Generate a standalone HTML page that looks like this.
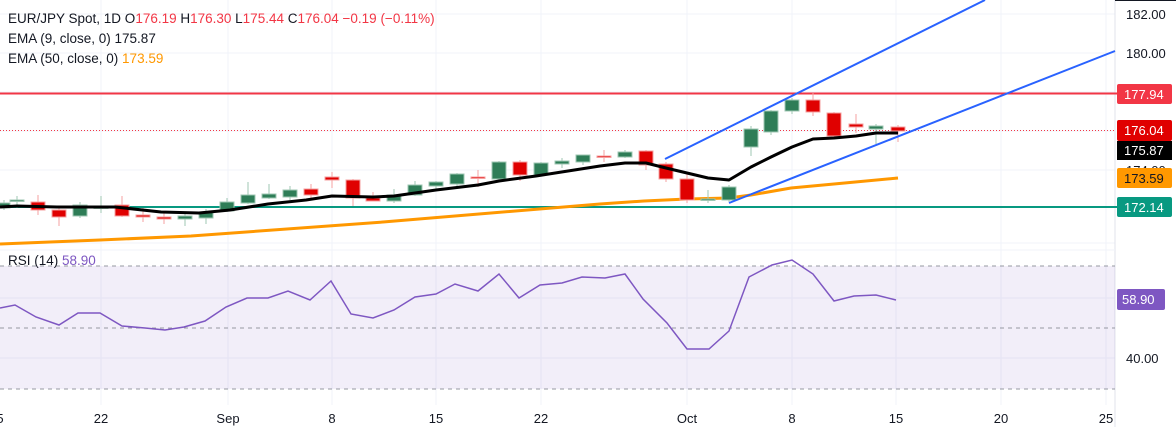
<!DOCTYPE html>
<html><head><meta charset="utf-8"><style>
body{margin:0;background:#fff;}
svg{display:block;font-family:"Liberation Sans","DejaVu Sans",sans-serif;}
</style></head><body>
<svg width="1176" height="427" viewBox="0 0 1176 427" xmlns="http://www.w3.org/2000/svg">
<rect width="1176" height="427" fill="#fff"/>
<!-- grid -->
<g stroke="#f0f3fa" stroke-width="1">
<line x1="0" y1="14" x2="1115" y2="14"/><line x1="0" y1="53" x2="1115" y2="53"/>
<line x1="0" y1="92" x2="1115" y2="92"/><line x1="0" y1="131" x2="1115" y2="131"/>
<line x1="0" y1="170" x2="1115" y2="170"/><line x1="0" y1="243" x2="1115" y2="243"/>
<line x1="0" y1="298" x2="1115" y2="298"/><line x1="0" y1="358" x2="1115" y2="358"/>
<line x1="101" y1="0" x2="101" y2="405"/><line x1="228" y1="0" x2="228" y2="405"/>
<line x1="332" y1="0" x2="332" y2="405"/><line x1="436" y1="0" x2="436" y2="405"/>
<line x1="541" y1="0" x2="541" y2="405"/><line x1="687" y1="0" x2="687" y2="405"/>
<line x1="792" y1="0" x2="792" y2="405"/><line x1="896" y1="0" x2="896" y2="405"/>
<line x1="1001" y1="0" x2="1001" y2="405"/><line x1="1106" y1="0" x2="1106" y2="405"/>
</g>
<line x1="1115" y1="0" x2="1115" y2="427" stroke="#e0e3eb"/>
<line x1="1115" y1="0.5" x2="1176" y2="0.5" stroke="#131722"/>
<line x1="0" y1="250" x2="1115" y2="250" stroke="#f0f3fa"/>

<!-- horizontal levels -->
<line x1="0" y1="93.5" x2="1117" y2="93.5" stroke="#f23645" stroke-width="2"/>
<line x1="0" y1="130.5" x2="1115" y2="130.5" stroke="#f23645" stroke-width="1" stroke-dasharray="1 2"/>
<line x1="0" y1="207" x2="1117" y2="207" stroke="#089981" stroke-width="2"/>

<!-- EMA50 -->
<polyline fill="none" stroke="#ff9800" stroke-width="3" points="0,244 100,240 191,236 383,222 600,204 644,201 687,199 729,198 751,195 791,188 834,184 898,178"/>

<!-- candles -->
<g stroke-width="1">
<g stroke="#9fc7b3" fill="#2e7d57">
<line x1="4" y1="200" x2="4" y2="210"/><rect x="-4" y="203" width="14" height="5"/>
<line x1="17" y1="196" x2="17" y2="208"/><rect x="10" y="200" width="14" height="1.5"/>
<line x1="80" y1="202" x2="80" y2="218"/><rect x="73" y="205" width="14" height="11"/>
<line x1="101" y1="196" x2="101" y2="213"/><rect x="94" y="207" width="14" height="1.5"/>
<line x1="185" y1="212" x2="185" y2="226"/><rect x="178" y="216" width="14" height="3"/>
<line x1="206" y1="209" x2="206" y2="224"/><rect x="199" y="212" width="14" height="6"/>
<line x1="227" y1="198" x2="227" y2="212"/><rect x="220" y="202" width="14" height="9"/>
<line x1="248" y1="182" x2="248" y2="204"/><rect x="241" y="195" width="14" height="8"/>
<line x1="269" y1="184" x2="269" y2="199"/><rect x="262" y="194" width="14" height="4"/>
<line x1="290" y1="186" x2="290" y2="200"/><rect x="283" y="190" width="14" height="7"/>
<line x1="394" y1="189" x2="394" y2="203"/><rect x="387" y="195" width="14" height="6"/>
<line x1="415" y1="181" x2="415" y2="196"/><rect x="408" y="185" width="14" height="10"/>
<line x1="436" y1="181" x2="436" y2="190"/><rect x="429" y="182" width="14" height="4"/>
<line x1="457" y1="173" x2="457" y2="189"/><rect x="450" y="174" width="14" height="10"/>
<line x1="499" y1="161" x2="499" y2="180"/><rect x="492" y="162" width="14" height="17"/>
<line x1="541" y1="162" x2="541" y2="176"/><rect x="534" y="163" width="14" height="12"/>
<line x1="562" y1="158" x2="562" y2="168"/><rect x="555" y="161" width="14" height="3"/>
<line x1="583" y1="155" x2="583" y2="165"/><rect x="576" y="155" width="14" height="7"/>
<line x1="625" y1="150" x2="625" y2="158"/><rect x="618" y="152" width="14" height="5"/>
<line x1="708" y1="190" x2="708" y2="203"/><rect x="701" y="199" width="14" height="1.5"/>
<line x1="729" y1="185" x2="729" y2="202"/><rect x="722" y="187" width="14" height="13"/>
<line x1="751" y1="126" x2="751" y2="156"/><rect x="744" y="129" width="14" height="18"/>
<line x1="771" y1="110" x2="771" y2="135"/><rect x="764" y="111" width="14" height="21"/>
<line x1="792" y1="98" x2="792" y2="114"/><rect x="785" y="100" width="14" height="11"/>
<line x1="876" y1="124" x2="876" y2="144"/><rect x="869" y="126" width="14" height="3"/>
</g>
<g stroke="#f4a0a0" fill="#e00000">
<line x1="38" y1="195" x2="38" y2="215"/><rect x="31" y="202" width="14" height="8"/>
<line x1="59" y1="207" x2="59" y2="226"/><rect x="52" y="210" width="14" height="7"/>
<line x1="122" y1="196" x2="122" y2="217"/><rect x="115" y="205" width="14" height="11"/>
<line x1="143" y1="208" x2="143" y2="222"/><rect x="136" y="215" width="14" height="2"/>
<line x1="164" y1="212" x2="164" y2="224"/><rect x="157" y="217" width="14" height="2"/>
<line x1="311" y1="184" x2="311" y2="199"/><rect x="304" y="189" width="14" height="6"/>
<line x1="332" y1="172" x2="332" y2="188"/><rect x="325" y="177" width="14" height="3"/>
<line x1="353" y1="179" x2="353" y2="206"/><rect x="346" y="180" width="14" height="18"/>
<line x1="373" y1="192" x2="373" y2="201"/><rect x="366" y="198" width="14" height="3"/>
<line x1="478" y1="170" x2="478" y2="187"/><rect x="471" y="177" width="14" height="1.5"/>
<line x1="520" y1="160" x2="520" y2="181"/><rect x="513" y="162" width="14" height="13"/>
<line x1="604" y1="150" x2="604" y2="162"/><rect x="597" y="156" width="14" height="1.5"/>
<line x1="646" y1="150" x2="646" y2="170"/><rect x="639" y="151" width="14" height="14"/>
<line x1="666" y1="162" x2="666" y2="182"/><rect x="659" y="164" width="14" height="15"/>
<line x1="687" y1="173" x2="687" y2="203"/><rect x="680" y="179" width="14" height="21"/>
<line x1="813" y1="93" x2="813" y2="116"/><rect x="806" y="100" width="14" height="12"/>
<line x1="834" y1="112" x2="834" y2="139"/><rect x="827" y="113" width="14" height="23"/>
<line x1="856" y1="114" x2="856" y2="133"/><rect x="849" y="124" width="14" height="3"/>
<line x1="898" y1="125" x2="898" y2="142"/><rect x="891" y="127" width="14" height="4"/>
</g>
</g>

<!-- EMA9 -->
<polyline fill="none" stroke="#000" stroke-width="3" stroke-linejoin="round" points="0,207 17,206 57,207 115,207 161,212 199,213 230,210 268,204 306,200 332,196 373,197 394,196 436,190 478,185 499,181 536,176 600,166 625,163 646,163 666,168 687,173 708,178 729,180 751,167 771,157 792,147 813,139 834,138 856,136 876,133 898,133"/>

<!-- channel lines -->
<line x1="665" y1="159" x2="985" y2="0" stroke="#2962ff" stroke-width="2"/>
<line x1="729" y1="203" x2="1115" y2="51" stroke="#2962ff" stroke-width="2"/>

<!-- RSI pane -->
<rect x="0" y="266" width="1115" height="123" fill="#7e57c2" fill-opacity="0.1"/>
<g stroke="#9598a1" stroke-dasharray="4 4" stroke-width="1">
<line x1="0" y1="266" x2="1115" y2="266"/><line x1="0" y1="328" x2="1115" y2="328"/><line x1="0" y1="389" x2="1115" y2="389"/>
</g>
<polyline fill="none" stroke="#7e57c2" stroke-width="1.5" points="0,308 15,305 36,317 59,325 78,313 100,313 122,326 145,328 165,330 184,327 205,321 226,307 247,298 268,298 288,291 310,300 331,281 351,314 373,318 394,310 415,297 436,294 455,284 478,291 499,274 519,298 540,285 562,283 582,277 605,278 625,274 643,299 667,323 687,349 709,349 729,331 749,277 772,265 792,260 813,274 834,301 854,296 876,295 896,300"/>

<!-- header text -->
<g font-size="13.5" fill="#131722">
<text x="8" y="23">EUR/JPY Spot, 1D  O<tspan fill="#f23645">176.19</tspan>  H<tspan fill="#f23645">176.30</tspan>  L<tspan fill="#f23645">175.44</tspan>  C<tspan fill="#f23645">176.04</tspan>  <tspan fill="#f23645">−0.19 (−0.11%)</tspan></text>
<text x="8" y="43">EMA (9, close, 0)  175.87</text>
<text x="8" y="63">EMA (50, close, 0)  <tspan fill="#ff9800">173.59</tspan></text>
<text x="8" y="265">RSI (14)  <tspan fill="#7e57c2">58.90</tspan></text>
</g>

<!-- right axis -->
<g font-size="13" fill="#131722">
<text x="1126" y="19">182.00</text>
<text x="1126" y="58">180.00</text>
<text x="1126" y="175">174.00</text>
<text x="1126" y="363">40.00</text>
</g>
<rect x="1117" y="84" width="55" height="20" rx="2" fill="#f23645"/>
<rect x="1117" y="120" width="55" height="21" rx="2" fill="#e00000"/>
<rect x="1117" y="141" width="55" height="19" fill="#000"/>
<rect x="1117" y="168" width="55" height="20" rx="2" fill="#ff9800"/>
<rect x="1117" y="197" width="55" height="20" rx="2" fill="#089981"/>
<rect x="1117" y="289" width="48" height="21" rx="2" fill="#7e57c2"/>
<g font-size="13" fill="#fff">
<text x="1124" y="99">177.94</text>
<text x="1124" y="135">176.04</text>
<text x="1124" y="155">175.87</text>
<text x="1124" y="183" fill="#131722">173.59</text>
<text x="1124" y="212">172.14</text>
<text x="1122" y="304">58.90</text>
</g>

<!-- time axis -->
<g font-size="13" fill="#131722" text-anchor="middle">
<text x="0" y="423">5</text>
<text x="101" y="423">22</text>
<text x="228" y="423">Sep</text>
<text x="332" y="423">8</text>
<text x="436" y="423">15</text>
<text x="541" y="423">22</text>
<text x="687" y="423">Oct</text>
<text x="792" y="423">8</text>
<text x="896" y="423">15</text>
<text x="1001" y="423">20</text>
<text x="1106" y="423">25</text>
</g>
</svg>
</body></html>
